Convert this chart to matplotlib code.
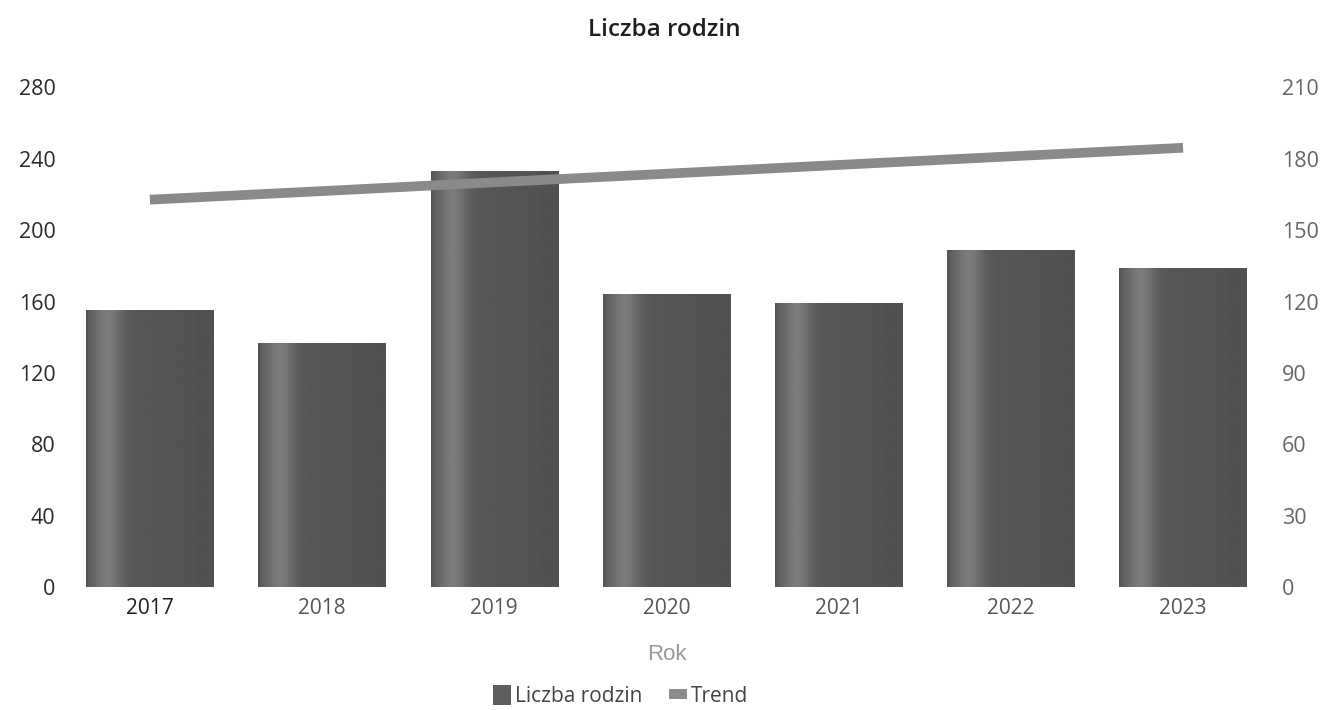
import matplotlib
matplotlib.use("Agg")
import matplotlib.pyplot as plt
import numpy as np
from matplotlib.patches import Patch

years = ["2017", "2018", "2019", "2020", "2021", "2022", "2023"]
families = [155, 137, 233, 164, 159, 189, 179]
trend = [162.8, 166.4, 170.1, 173.7, 177.4, 181.0, 184.6]
left_ticks = [0, 40, 80, 120, 160, 200, 240, 280]
right_ticks = [0, 30, 60, 90, 120, 150, 180, 210]

plt.rcParams['font.family'] = ['Open Sans', 'DejaVu Sans']

fig = plt.figure(figsize=(13.29, 7.10), dpi=100)
ax = fig.add_axes([0.048, 0.173, 0.907, 0.704])
ax2 = ax.twinx()

x = np.arange(len(years))
bars = ax.bar(x, families, width=0.74, color="#5a5a5a", zorder=2)

# cylindrical shading
prof = np.linspace(0, 1, 256)
shade = (0.35 + 0.14 * np.exp(-((prof - 0.17) / 0.11) ** 2)
         - 0.03 * prof - 0.04 * np.exp(-(prof / 0.02) ** 2))
grad = np.tile(shade, (2, 1))
for b in bars:
    bx, by = b.get_x(), b.get_y()
    w, h = b.get_width(), b.get_height()
    im = ax.imshow(grad, cmap="gray", vmin=0, vmax=1, aspect="auto",
                   extent=[bx, bx + w, by, by + h], zorder=3,
                   interpolation="bilinear")
    im.set_clip_path(b)

ax.set_xlim(-0.5, len(years) - 0.5)
ax.set_ylim(0, 280)
ax.set_yticks(left_ticks)
ax2.set_ylim(0, 210)
ax2.set_yticks(right_ticks)

ax2.plot(x, trend, color="#8a8a8a", linewidth=7, solid_capstyle="butt", zorder=4)

for a in (ax, ax2):
    for s in a.spines.values():
        s.set_visible(False)
    a.tick_params(length=0)

ax.set_xticks(x)
ax.set_xticklabels(years, fontsize=15)
for i, t in enumerate(ax.get_xticklabels()):
    t.set_color("#1e1e1e" if i == 0 else "#555555")
ax.tick_params(axis="x", pad=8)
ax.tick_params(axis="y", labelsize=15.5, labelcolor="#2a2a2a", pad=6)
ax2.tick_params(axis="y", labelsize=15.5, labelcolor="#666666", pad=9)

ax.set_xlabel("Rok", fontsize=16, color="#999999", family="Liberation Sans", labelpad=18)
fig.text(0.5, 0.958, "Liczba rodzin", ha="center", va="center", fontsize=17.5,
         color="#1e1e1e", fontweight="semibold")

handles = [Patch(facecolor="#5e5e5e", edgecolor="none"),
           Patch(facecolor="#8c8c8c", edgecolor="none")]
leg = fig.legend(handles, ["Liczba rodzin", "Trend"], loc="center",
                 bbox_to_anchor=(0.467, 0.02), ncol=2, frameon=False,
                 fontsize=15, handlelength=0.85, handleheight=1.1,
                 handletextpad=0.2, columnspacing=1.3, labelcolor="#444444")
h2 = leg.legend_handles[1]
h2.set_height(7)
h2.set_y(h2.get_y() + 4)

fig.savefig("out.png", dpi=100, facecolor="white")
